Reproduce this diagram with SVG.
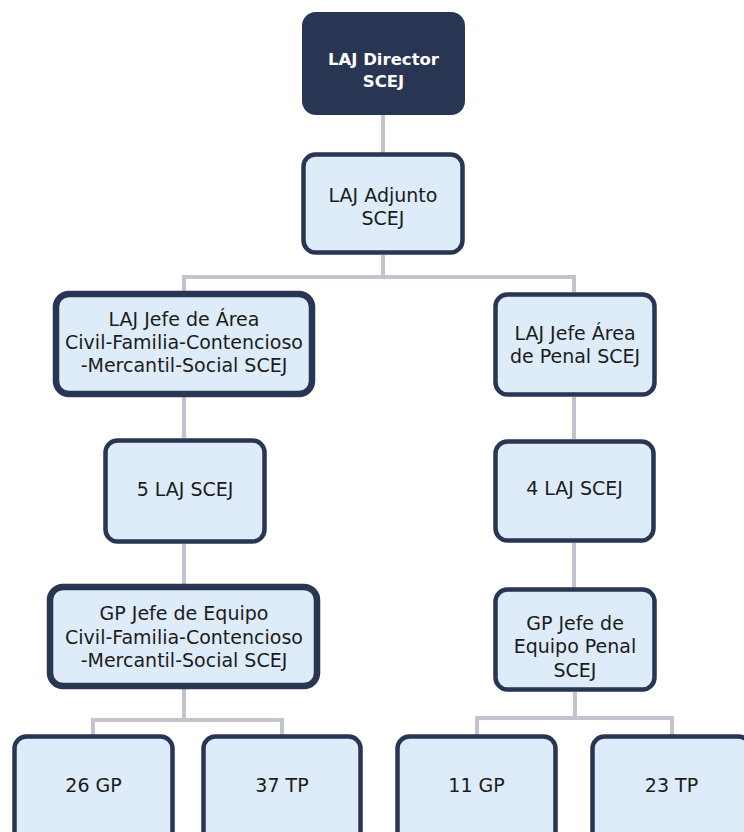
<svg xmlns="http://www.w3.org/2000/svg" width="744" height="832" viewBox="0 0 744 832">
<style>
.box{fill:#deebf8;stroke:#283553;stroke-width:4.5}
.thick{stroke-width:6.5}
.t{font-family:"DejaVu Sans",sans-serif;font-size:19px;fill:#1c1c1c;text-anchor:middle}
.tb{font-family:"DejaVu Sans",sans-serif;font-size:16.5px;font-weight:bold;fill:#ffffff;text-anchor:middle}
.c{stroke:#c3c2cf;stroke-width:4;fill:none}
</style>
<rect width="744" height="832" fill="#ffffff"/>
<g id="connectors">
<path class="c" d="M383 115V153"/>
<path class="c" d="M383 255V277M184 277H574M184 275V292M574 275V292"/>
<path class="c" d="M184 397V438M184 544V586"/>
<path class="c" d="M574 397V439M574 543V588"/>
<path class="c" d="M184 689V720M93 720H282M93 718V735M282 718V735"/>
<path class="c" d="M575 692V718M477 718H672M477 716V735M672 716V735"/>
</g>
<g id="director">
<rect x="302" y="12" width="163" height="103" rx="14" fill="#283553"/>
<text class="tb" x="383.5" y="65">LAJ Director</text>
<text class="tb" x="383.5" y="87">SCEJ</text>
</g>
<g id="adjunto">
<rect class="box" x="303.5" y="154.5" width="159" height="98" rx="12"/>
<text class="t" x="383" y="202">LAJ Adjunto</text>
<text class="t" x="383" y="225">SCEJ</text>
</g>
<g id="jefe-area-civil">
<rect class="box thick" x="56" y="294" width="256" height="100" rx="13"/>
<text class="t" x="184" y="326">LAJ Jefe de Área</text>
<text class="t" x="184" y="349">Civil-Familia-Contencioso</text>
<text class="t" x="184" y="372">-Mercantil-Social SCEJ</text>
</g>
<g id="jefe-area-penal">
<rect class="box" x="495.5" y="294.5" width="159" height="100" rx="12"/>
<text class="t" x="575" y="340">LAJ Jefe Área</text>
<text class="t" x="575" y="363">de Penal SCEJ</text>
</g>
<g id="laj5">
<rect class="box" x="105.5" y="440.5" width="159" height="101" rx="12"/>
<text class="t" x="185" y="496">5 LAJ SCEJ</text>
</g>
<g id="laj4">
<rect class="box" x="495.5" y="441.5" width="158" height="99" rx="12"/>
<text class="t" x="574.5" y="495">4 LAJ SCEJ</text>
</g>
<g id="gp-jefe-civil">
<rect class="box thick" x="50" y="587" width="267" height="99" rx="13"/>
<text class="t" x="184" y="620">GP Jefe de Equipo</text>
<text class="t" x="184" y="644">Civil-Familia-Contencioso</text>
<text class="t" x="184" y="667">-Mercantil-Social SCEJ</text>
</g>
<g id="gp-jefe-penal">
<rect class="box" x="495.5" y="589.5" width="159" height="100" rx="12"/>
<text class="t" x="575" y="630">GP Jefe de</text>
<text class="t" x="575" y="653">Equipo Penal</text>
<text class="t" x="575" y="677">SCEJ</text>
</g>
<g id="gp26">
<rect class="box" x="14.5" y="736.5" width="158" height="110" rx="12"/>
<text class="t" x="93.5" y="792">26 GP</text>
</g>
<g id="tp37">
<rect class="box" x="203.5" y="736.5" width="157" height="110" rx="12"/>
<text class="t" x="282" y="792">37 TP</text>
</g>
<g id="gp11">
<rect class="box" x="397.5" y="736.5" width="158" height="110" rx="12"/>
<text class="t" x="476.5" y="792">11 GP</text>
</g>
<g id="tp23">
<rect class="box" x="592.5" y="736.5" width="158" height="110" rx="12"/>
<text class="t" x="671.5" y="792">23 TP</text>
</g>
</svg>
